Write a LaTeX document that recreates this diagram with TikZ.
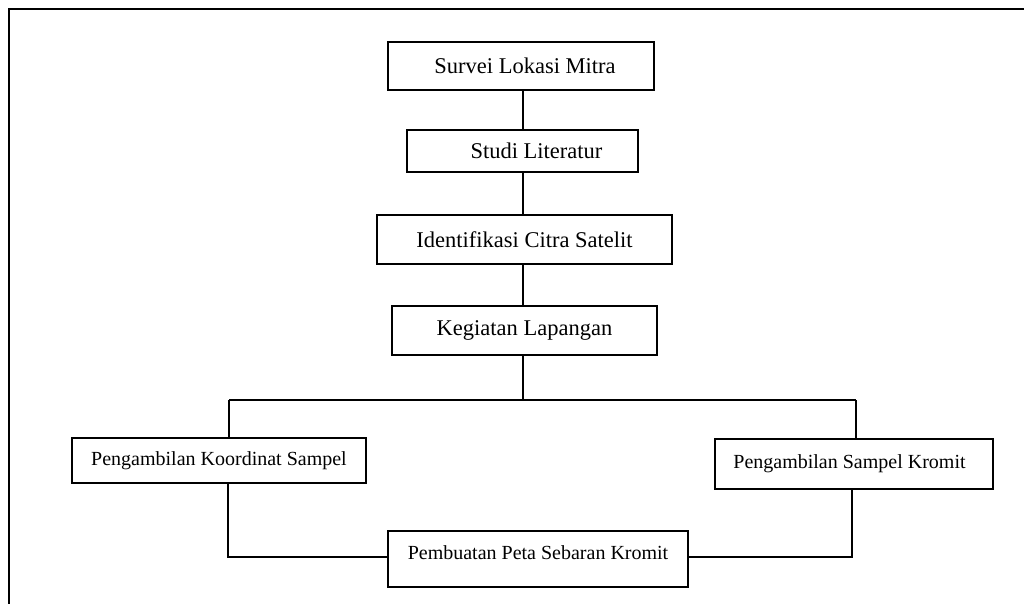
\documentclass[tikz,border=0pt]{standalone}
\usepackage{fontspec}
\setmainfont{Liberation Serif}
\begin{document}
\begin{tikzpicture}[x=1pt,y=-1pt,
  box/.style={draw=black,line width=1.5pt,rectangle,inner sep=0pt,align=center},
  bigtext/.style={font=\fontsize{22.5}{26}\selectfont},
  smalltext/.style={font=\fontsize{20}{24}\selectfont},
  conn/.style={draw=black,line width=1.1pt},
  branch/.style={draw=black,line width=2pt},
  frame/.style={draw=black,line width=2.5pt}]
\useasboundingbox (0,0) rectangle (1024,604);
\clip (0,0) rectangle (1024,604);
\fill[white] (0,0) rectangle (1024,604);
\draw[frame] (9,650) -- (9,9) -- (1100,9);
\node[box,bigtext,minimum width=266pt,minimum height=48pt] (survei) at (521,66) {\hspace*{8pt}Survei Lokasi Mitra};
\node[box,bigtext,minimum width=231pt,minimum height=42pt] (studi) at (522.5,151) {\hspace*{28pt}Studi Literatur};
\node[box,bigtext,minimum width=295pt,minimum height=49pt] (ident) at (524.5,239.5) {Identifikasi Citra Satelit};
\node[box,bigtext,minimum width=265pt,minimum height=49pt] (keg) at (524.5,330.5) {Kegiatan Lapangan};
\node[box,smalltext,minimum width=294pt,minimum height=45pt] (koord) at (219,460.5) {Pengambilan Koordinat Sampel};
\node[box,smalltext,minimum width=278pt,minimum height=50pt] (kromit) at (854,464) {\hspace*{-9pt}Pengambilan Sampel Kromit};
\node[box,smalltext,minimum width=300pt,minimum height=56pt] (peta) at (538,559) {\raisebox{12pt}{Pembuatan Peta Sebaran Kromit}};
\coordinate (spine) at (523,0);
\coordinate (bl) at (229,400);
\coordinate (br) at (856,400);
\coordinate (bm) at (523,400);
\coordinate (ll) at (228,557);
\coordinate (rl) at (852,557);
\draw[conn] (survei.south -| spine) -- (studi.north -| spine);
\draw[conn] (studi.south -| spine) -- (ident.north -| spine);
\draw[conn] (ident.south -| spine) -- (keg.north -| spine);
\draw[conn] (keg.south -| spine) -- (bm);
\draw[branch] (bl) -- (br);
\draw[conn] (bl) -- (koord.north -| bl);
\draw[conn] (br) -- (kromit.north -| br);
\draw[conn] (koord.south -| ll) -- (ll) -- (peta.west |- ll);
\draw[conn] (kromit.south -| rl) -- (rl) -- (peta.east |- rl);
\end{tikzpicture}
\end{document}
